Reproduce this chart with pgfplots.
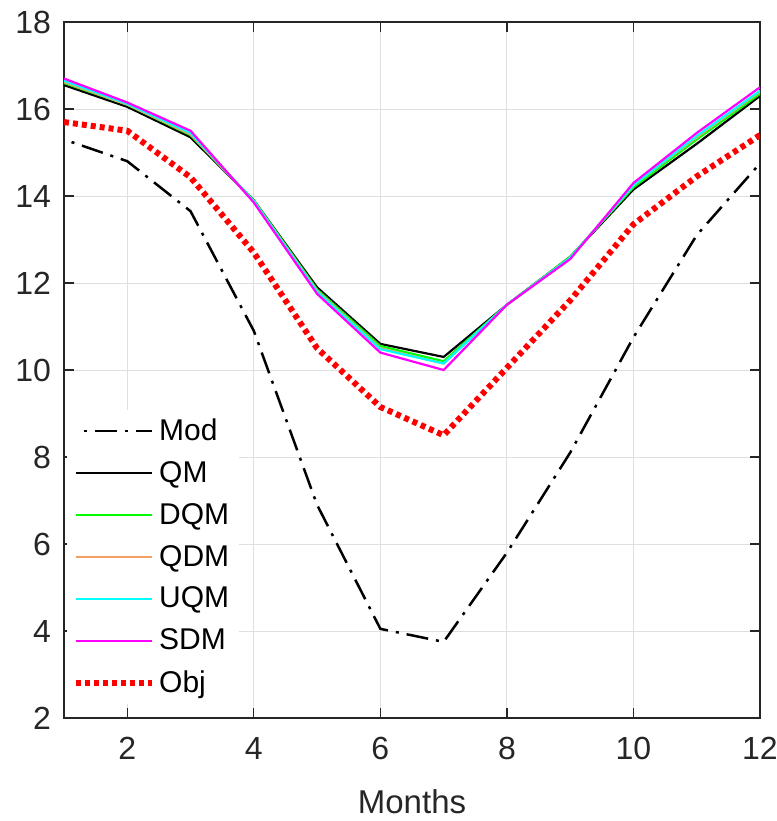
\documentclass[border=0pt]{standalone}
\usepackage{pgfplots}
\pgfplotsset{compat=1.18}
\usepackage{fontspec}
\setmainfont{Liberation Sans}
\definecolor{qdmc}{rgb}{0.96,0.62,0.38}
\definecolor{mgreen}{rgb}{0,1,0}
\definecolor{mcyan}{rgb}{0,1,1}
\definecolor{mmag}{rgb}{1,0,1}
\definecolor{mred}{rgb}{1,0,0}
\begin{document}
\begin{tikzpicture}
\useasboundingbox (-32pt,-51.5pt) rectangle (356.5pt,359pt);
\begin{axis}[
  scale only axis, width=348pt, height=348pt,
  xmin=1, xmax=12, ymin=2, ymax=18,
  xtick={2,4,...,12}, ytick={2,4,...,18},
  tick align=inside, major tick length=5pt,
  grid=major, grid style={gray!25, line width=0.5pt},
  axis line style={black!85, line width=0.8pt},
  tick style={black!85, line width=0.6pt},
  /pgf/number format/assume math mode=true,
  ticklabel style={font=\fontsize{16}{18}\selectfont, text=black!85},
  xticklabel style={yshift=-6pt},
  yticklabel style={xshift=-3pt},
  xlabel={Months},
  xlabel style={font=\fontsize{16.5}{19}\selectfont, text=black!85, yshift=-8pt},
  legend cell align=left,
  legend style={draw=none, fill=white, at={(0.004,0.02)}, anchor=south west,
    font=\fontsize{15}{17}\selectfont, row sep=5pt, inner xsep=3pt},
  legend image code/.code={\draw[#1] (0pt,0pt) -- (38pt,0pt);},
]
\addplot[black, line width=1.25pt, dash pattern=on 1.5pt off 4pt on 11pt off 4pt, dash phase=-4pt] coordinates {
(1,15.3)(2,14.8)(3,13.65)(4,10.9)(5,6.9)(6,4.05)(7,3.75)(8,5.8)(9,8.1)(10,10.75)(11,13.1)(12,14.75)};
\addlegendentry{Mod}
\addplot[black, line width=1.1pt] coordinates {
(1,16.55)(2,16.05)(3,15.35)(4,13.9)(5,11.9)(6,10.6)(7,10.3)(8,11.5)(9,12.6)(10,14.15)(11,15.2)(12,16.3)};
\addlegendentry{QM}
\addplot[mgreen, line width=1.1pt] coordinates {
(1,16.6)(2,16.1)(3,15.4)(4,13.9)(5,11.85)(6,10.55)(7,10.2)(8,11.5)(9,12.6)(10,14.2)(11,15.3)(12,16.35)};
\addlegendentry{DQM}
\addplot[qdmc, line width=1.1pt] coordinates {
(1,16.62)(2,16.1)(3,15.42)(4,13.88)(5,11.82)(6,10.5)(7,10.15)(8,11.5)(9,12.58)(10,14.25)(11,15.35)(12,16.4)};
\addlegendentry{QDM}
\addplot[mcyan, line width=1.1pt] coordinates {
(1,16.65)(2,16.12)(3,15.45)(4,13.88)(5,11.8)(6,10.48)(7,10.15)(8,11.5)(9,12.58)(10,14.25)(11,15.38)(12,16.42)};
\addlegendentry{UQM}
\addplot[mmag, line width=1.1pt] coordinates {
(1,16.7)(2,16.15)(3,15.5)(4,13.85)(5,11.75)(6,10.4)(7,10.0)(8,11.5)(9,12.55)(10,14.3)(11,15.45)(12,16.5)};
\addlegendentry{SDM}
\addplot[mred, line width=3pt, dash pattern=on 2.5pt off 2pt] coordinates {
(1,15.7)(2,15.5)(3,14.43)(4,12.7)(5,10.5)(6,9.15)(7,8.5)(8,10.05)(9,11.6)(10,13.35)(11,14.45)(12,15.4)};
\addlegendentry{Obj}
\end{axis}
\end{tikzpicture}
\end{document}
